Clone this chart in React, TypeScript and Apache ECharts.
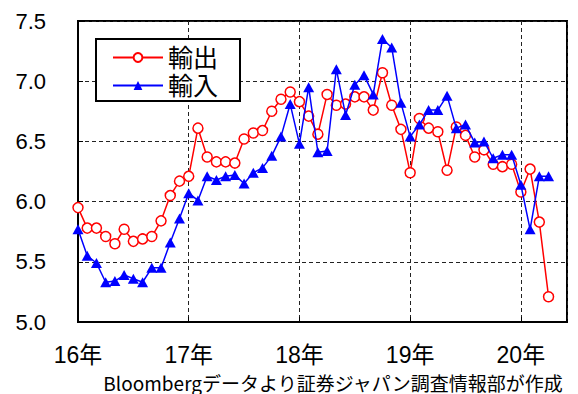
import React, { useEffect, useRef } from "react";
import * as echarts from "echarts";

// Monthly values, Jan 2016 - Apr 2020
const exportsValues = [
  5.95, 5.78, 5.78, 5.71, 5.65, 5.77, 5.67, 5.69, 5.71, 5.84, 6.05, 6.17,
  6.21, 6.61, 6.37, 6.33, 6.33, 6.32, 6.52, 6.57, 6.59, 6.75, 6.85, 6.91,
  6.83, 6.71, 6.56, 6.89, 6.80, 6.81, 6.87, 6.87, 6.76, 7.07, 6.80, 6.60,
  6.24, 6.69, 6.61, 6.58, 6.26, 6.62, 6.55, 6.37, 6.43, 6.31, 6.29, 6.31,
  6.08, 6.27, 5.83, 5.21,
];
const importsValues = [
  5.77, 5.55, 5.49, 5.33, 5.34, 5.39, 5.36, 5.33, 5.45, 5.45, 5.66, 5.86,
  6.07, 6.01, 6.21, 6.18, 6.21, 6.22, 6.15, 6.24, 6.28, 6.38, 6.54, 6.81,
  6.48, 6.95, 6.41, 6.42, 7.10, 6.72, 6.97, 7.05, 6.89, 7.35, 7.28, 6.82,
  6.54, 6.64, 6.76, 6.76, 6.88, 6.61, 6.64, 6.49, 6.50, 6.36, 6.39, 6.39,
  6.14, 5.77, 6.21, 6.21,
];
const xTickLabels = ["16年", "17年", "18年", "19年", "20年"];
const seriesNames = ["輸出", "輸入"];
const sourceNote = "Bloombergデータより証券ジャパン調査情報部が作成";

const FONT = "'Liberation Sans', Arial, 'Noto Sans CJK JP', sans-serif";

export default function App() {
  const ref = useRef<HTMLDivElement>(null);
  useEffect(() => {
    if (!ref.current) return;
    const chart = echarts.init(ref.current, undefined, { renderer: "svg" });
    chart.setOption({
      animation: false,
      backgroundColor: "#fff",
      grid: {
        left: 78,
        right: 11,
        top: 21,
        bottom: 72,
        show: true,
        borderColor: "#000",
        borderWidth: 2,
        backgroundColor: "#fff",
      },
      legend: {
        data: seriesNames,
        orient: "vertical",
        left: 96,
        top: 39,
        padding: [6, 22, 3, 16],
        itemWidth: 50,
        itemHeight: 11,
        itemGap: 3,
        backgroundColor: "#fff",
        borderColor: "#000",
        borderWidth: 2,
        textStyle: { fontSize: 25, lineHeight: 25, color: "#000", fontFamily: FONT },
      },
      xAxis: {
        type: "value",
        min: 0,
        max: 53,
        interval: 12,
        axisLine: { lineStyle: { color: "#000", width: 2 } },
        axisTick: { inside: true, length: 5, lineStyle: { color: "#000", width: 1 } },
        splitLine: { show: true, lineStyle: { type: [4, 3], color: "#222", width: 1 } },
        axisLabel: {
          fontSize: 23,
          lineHeight: 23,
          color: "#000",
          margin: 21,
          fontFamily: FONT,
          showMaxLabel: false,
          formatter: (v: number) =>
            v % 12 === 0 && xTickLabels[v / 12] ? xTickLabels[v / 12] : "",
        },
      },
      yAxis: {
        type: "value",
        min: 5,
        max: 7.5,
        interval: 0.5,
        axisLine: { show: true, lineStyle: { color: "#000", width: 2 } },
        axisTick: { show: true, inside: true, length: 5, lineStyle: { color: "#000", width: 1 } },
        splitLine: { show: true, lineStyle: { type: [4, 3], color: "#222", width: 1 } },
        axisLabel: {
          fontSize: 22,
          color: "#000",
          margin: 32,
          fontFamily: FONT,
          formatter: (v: number) => v.toFixed(1),
        },
      },
      graphic: [
        {
          type: "text",
          x: 333,
          y: 382,
          style: {
            text: sourceNote,
            fontSize: 19,
            lineHeight: 19,
            fill: "#000",
            verticalAlign: "middle",
            align: "center",
            fontFamily: "'Noto Sans CJK JP', sans-serif",
          },
        },
      ],
      series: [
        {
          name: seriesNames[0],
          type: "line",
          data: exportsValues.map((v, i) => [i, v]),
          symbol: "circle",
          symbolSize: 10,
          showAllSymbol: true,
          lineStyle: { color: "#ff0000", width: 1.5 },
          itemStyle: { color: "#fff", borderColor: "#ff0000", borderWidth: 1.5 },
          z: 2,
        },
        {
          name: seriesNames[1],
          type: "line",
          data: importsValues.map((v, i) => [i, v]),
          symbol: "triangle",
          symbolSize: [11, 10],
          showAllSymbol: true,
          lineStyle: { color: "#0000ff", width: 1.5 },
          itemStyle: { color: "#0000ff" },
          z: 3,
        },
      ],
    });
    return () => chart.dispose();
  }, []);
  return (
    <div
      ref={ref}
      style={{ position: "absolute", left: 0, top: 0, width: 578, height: 394, background: "#fff" }}
    />
  );
}
